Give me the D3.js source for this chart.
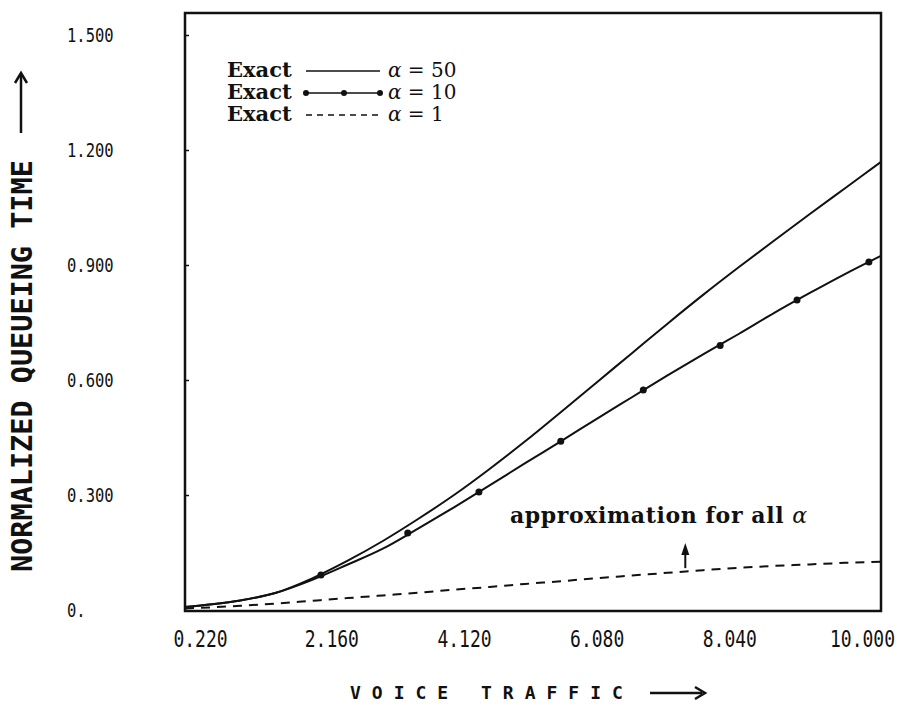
<!DOCTYPE html>
<html lang="en">
<head>
    <meta charset="UTF-8">
    <title>Normalized queueing time vs voice traffic</title>
    <style>
        body { margin: 0; padding: 0; background: #fff; }
        svg { display: block; }
    </style>
</head>
<body>
    <script src="https://d3js.org/d3.v7.min.js"></script>
    <script>
        // data
        const xTicks = [0.22, 2.16, 4.12, 6.08, 8.04, 10.0];
        const xTickLabels = ['0.220', '2.160', '4.120', '6.080', '8.040', '10.000'];
        const yTicks = [0, 0.3, 0.6, 0.9, 1.2, 1.5];
        const yTickLabels = ['0.', '0.300', '0.600', '0.900', '1.200', '1.500'];

        const traffic = [0.22, 0.6, 1.0, 1.5, 2.0, 2.5, 3.0, 3.5, 4.0, 4.5, 5.0, 5.5, 6.0, 6.5, 7.0, 7.5, 8.0, 8.5, 9.0, 9.5, 10.0];
        const exact50 = [0.008, 0.015, 0.025, 0.045, 0.082, 0.128, 0.18, 0.238, 0.3, 0.368, 0.44, 0.516, 0.593, 0.67, 0.747, 0.822, 0.894, 0.964, 1.033, 1.101, 1.169];
        const exact10 = [0.008, 0.015, 0.025, 0.045, 0.078, 0.118, 0.16, 0.213, 0.268, 0.325, 0.383, 0.44, 0.498, 0.555, 0.612, 0.667, 0.72, 0.775, 0.827, 0.877, 0.924];
        const approx = [0.004, 0.007, 0.011, 0.017, 0.024, 0.031, 0.038, 0.045, 0.053, 0.06, 0.068, 0.075, 0.083, 0.09, 0.097, 0.104, 0.11, 0.115, 0.119, 0.123, 0.126];

        // dots on the alpha = 10 curve
        const dotX = [2.13, 3.35, 4.35, 5.5, 6.66, 7.74, 8.82, 9.83];
        const dotY = [0.091, 0.201, 0.308, 0.44, 0.574, 0.69, 0.809, 0.908];

        const legendValues = ['50', '10', '1'];

        const width = 919, height = 707;
        const frame = { left: 185, right: 881, top: 13, bottom: 611 };

        const svg = d3.select('body').append('svg')
            .attr('width', width)
            .attr('height', height);

        const x = d3.scaleLinear().domain([0.22, 10]).range([frame.left, frame.right]);
        const y = d3.scaleLinear().domain([0, 1.5]).range([610, 35]);
        // the plotter put the x labels on a slightly narrower span than the frame
        const xLab = d3.scaleLinear().domain([0.22, 10]).range([200, 862]);

        const plotFont = "'DejaVu Sans Mono', monospace";
        const texFont = "'DejaVu Serif', 'Liberation Serif', serif";

        // frame
        svg.append('rect')
            .attr('x', frame.left).attr('y', frame.top)
            .attr('width', frame.right - frame.left)
            .attr('height', frame.bottom - frame.top)
            .attr('fill', 'none').attr('stroke', '#111').attr('stroke-width', 2.5);

        // y axis: small inward ticks, labels far left
        const yAxis = svg.append('g')
            .attr('transform', `translate(${frame.left},0)`)
            .call(d3.axisRight(y).tickValues(yTicks.slice(1)).tickSize(4).tickFormat(''));
        yAxis.select('.domain').remove();
        yAxis.selectAll('line').attr('stroke', '#111').attr('stroke-width', 1.5);

        const yLabels = svg.append('g')
            .attr('transform', 'translate(67,0)')
            .call(d3.axisRight(y).tickValues(yTicks).tickSize(0)
                .tickFormat((d, i) => yTickLabels[i]));
        yLabels.select('.domain').remove();
        yLabels.selectAll('text')
            .attr('x', 0)
            .attr('font-family', plotFont)
            .attr('font-size', 15.5)
            .attr('fill', '#111')
            .attr('transform', 'scale(1,1.3)');

        const xLabels = svg.append('g')
            .attr('transform', `translate(0,${frame.bottom + 28})`)
            .call(d3.axisBottom(xLab).tickValues(xTicks).tickSize(0)
                .tickFormat((d, i) => xTickLabels[i]));
        xLabels.select('.domain').remove();
        xLabels.selectAll('text')
            .attr('y', 0)
            .attr('dy', '0.35em')
            .attr('font-family', plotFont)
            .attr('font-size', 18)
            .attr('fill', '#111')
            .attr('transform', 'scale(1,1.3)');

        // curves
        const line = d3.line()
            .x((d, i) => x(traffic[i]))
            .y(d => y(d))
            .curve(d3.curveMonotoneX);

        svg.append('path').datum(exact50)
            .attr('d', line).attr('fill', 'none')
            .attr('stroke', '#111').attr('stroke-width', 2);
        svg.append('path').datum(exact10)
            .attr('d', line).attr('fill', 'none')
            .attr('stroke', '#111').attr('stroke-width', 2);
        svg.append('path').datum(approx)
            .attr('d', line).attr('fill', 'none')
            .attr('stroke', '#111').attr('stroke-width', 2)
            .attr('stroke-dasharray', '9,7');

        svg.append('g').selectAll('circle')
            .data(dotX)
            .join('circle')
            .attr('cx', d => x(d))
            .attr('cy', (d, i) => y(dotY[i]))
            .attr('r', 3.5)
            .attr('fill', '#111');

        // legend
        const legend = svg.append('g').attr('class', 'legend');
        const rowY = [77, 99, 121];
        legendValues.forEach((v, i) => {
            legend.append('text')
                .attr('x', 227).attr('y', rowY[i])
                .attr('font-family', texFont).attr('font-weight', 'bold')
                .attr('font-size', 21).attr('fill', '#111')
                .text('Exact');
            const ly = rowY[i] - 6;
            const seg = legend.append('line')
                .attr('x1', 306).attr('x2', 380)
                .attr('y1', ly).attr('y2', ly)
                .attr('stroke', '#111').attr('stroke-width', 1.6);
            if (i === 1) {
                legend.selectAll(null).data([306, 344, 380]).join('circle')
                    .attr('cx', d => d).attr('cy', ly).attr('r', 3)
                    .attr('fill', '#111');
            }
            if (i === 2) seg.attr('stroke-dasharray', '6,5');
            const t = legend.append('text')
                .attr('x', 388).attr('y', rowY[i])
                .attr('font-family', texFont)
                .attr('font-size', 20).attr('fill', '#111');
            t.append('tspan').attr('font-style', 'italic').text('α');
            t.append('tspan').text(' = ' + v);
        });

        // annotation
        const note = svg.append('text')
            .attr('x', 510).attr('y', 523)
            .attr('font-family', texFont).attr('font-weight', 'bold')
            .attr('font-size', 22).attr('letter-spacing', 0.6).attr('fill', '#111');
        note.append('tspan').text('approximation for all ');
        note.append('tspan').attr('font-weight', 'normal').attr('font-style', 'italic').text('α');

        const ax = x(7.25);
        svg.append('line')
            .attr('x1', ax).attr('x2', ax)
            .attr('y1', y(0.104) - 2).attr('y2', 552)
            .attr('stroke', '#111').attr('stroke-width', 2);
        svg.append('path')
            .attr('d', `M${ax - 4},555 L${ax},543 L${ax + 4},555 Z`)
            .attr('fill', '#111');

        // axis titles
        const yTitle = svg.append('g').attr('transform', 'translate(32,572) rotate(-90)');
        yTitle.append('text')
            .attr('x', 0).attr('y', 0)
            .attr('font-family', plotFont).attr('font-weight', 'bold')
            .attr('font-size', 28.5).attr('fill', '#111')
            .text('NORMALIZED QUEUEING TIME');
        yTitle.append('line')
            .attr('x1', 439).attr('x2', 497)
            .attr('y1', -11).attr('y2', -11)
            .attr('stroke', '#111').attr('stroke-width', 2.5);
        yTitle.append('path')
            .attr('d', 'M489,-17 L499,-11 L489,-5')
            .attr('fill', 'none').attr('stroke', '#111').attr('stroke-width', 2.5);

        const xTitle = svg.append('g').attr('transform', 'translate(350,699)');
        xTitle.append('text')
            .attr('font-family', plotFont).attr('font-weight', 'bold')
            .attr('font-size', 18).attr('letter-spacing', 11).attr('fill', '#111')
            .text('VOICE TRAFFIC');
        xTitle.append('line')
            .attr('x1', 300).attr('x2', 352)
            .attr('y1', -6).attr('y2', -6)
            .attr('stroke', '#111').attr('stroke-width', 2.5);
        xTitle.append('path')
            .attr('d', 'M345,-12 L355,-6 L345,0')
            .attr('fill', 'none').attr('stroke', '#111').attr('stroke-width', 2.5);
    </script>
</body>
</html>
